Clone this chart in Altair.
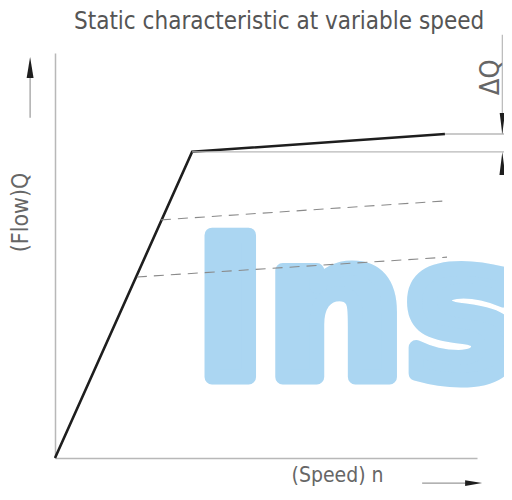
import altair as alt
import pandas as pd

# ---- data (speed n on x, flow Q on y; axis origin = 0, axis ends = 100) ----
main_n = [0, 32.5, 92.4]
main_q = [0, 75.6, 80.0]

dash_upper_n = [25.1, 92.9]
dash_upper_q = [58.8, 63.5]
dash_lower_n = [19.4, 92.9]
dash_lower_q = [44.7, 49.6]

ref_q = [75.6, 80.0]
ref_start_n = [32.5, 92.4]
ref_end_n = [108.3, 108.3]

dim_n = 106.0
dim_top_q = 104.5
delta_label = "ΔQ"
delta_label_n = 103.2
delta_label_q = 94.0

title_text = "Static characteristic at variable speed"
title_n = 53.1
title_q = 106.0
x_title = "(Speed) n"
y_title = "(Flow)Q"

W, H = 422, 405
XDOM = [0, 100]
YDOM = [0, 100]

FONT = "DejaVu Sans Condensed"
TXT = "#666666"
BLUE = "#abd6f2"

xs = alt.Scale(domain=XDOM, nice=False, zero=False)
ys = alt.Scale(domain=YDOM, nice=False, zero=False)

main_df = pd.DataFrame({"n": main_n, "Q": main_q, "o": range(len(main_n))})
dash_df = pd.DataFrame({
    "n": dash_upper_n + dash_lower_n,
    "Q": dash_upper_q + dash_lower_q,
    "s": ["upper"] * 2 + ["lower"] * 2,
})
ref_df = pd.DataFrame({"n": ref_start_n, "n2": ref_end_n, "Q": ref_q})

base_x = alt.X("n:Q", scale=xs, axis=alt.Axis(
    title=x_title, domain=True, domainColor="#b8b8b8", domainWidth=1.5,
    ticks=False, labels=False, grid=False,
    titleFont=FONT, titleFontSize=21, titleFontWeight="normal", titleColor=TXT,
    titleX=282, titleY=17, titleAlign="center", titleBaseline="middle"))
base_y = alt.Y("Q:Q", scale=ys, axis=alt.Axis(
    title=y_title, domain=True, domainColor="#b8b8b8", domainWidth=1.5,
    ticks=False, labels=False, grid=False,
    titleFont=FONT, titleFontSize=23, titleFontWeight="normal", titleColor=TXT,
    titleX=-35, titleY=159, titleAngle=-90, titleAlign="center", titleBaseline="middle"))


def XY():
    return dict(x=alt.X("n:Q", scale=xs), y=alt.Y("Q:Q", scale=ys))


# watermark
wm_df = pd.DataFrame({"n": [33.0], "Q": [19.9], "t": ["Ins"]})
watermark = alt.Chart(wm_df).mark_text(
    font="DejaVu Sans", fontWeight="bold", fontSize=194, color=BLUE,
    stroke=BLUE, strokeWidth=15, strokeJoin="round",
    align="left", baseline="alphabetic"
).encode(text="t:N", **XY())

main = alt.Chart(main_df).mark_line(color="#1e1e1e", strokeWidth=2.6).encode(
    x=base_x, y=base_y, order="o:Q")

dashed = alt.Chart(dash_df).mark_line(
    color="#8a8a8a", strokeWidth=1.1, strokeDash=[10, 7]
).encode(detail="s:N", **XY())

refs = alt.Chart(ref_df).mark_rule(color="#b8b8b8", strokeWidth=1.3).encode(
    x=alt.X("n:Q", scale=xs), x2="n2:Q", y=alt.Y("Q:Q", scale=ys))

dim_line_df = pd.DataFrame({"n": [dim_n], "Q": [ref_q[1]], "Q2": [dim_top_q]})
dim_line = alt.Chart(dim_line_df).mark_rule(color="#b8b8b8", strokeWidth=1.2).encode(
    x=alt.X("n:Q", scale=xs), y=alt.Y("Q:Q", scale=ys), y2="Q2:Q")

down_wedge = "M0,1 L-0.25,-1 L0.25,-1 Z"
up_wedge = "M0,-1 L0.25,1 L-0.25,1 Z"
right_wedge = "M1,0 L-1,-0.35 L-1,0.35 Z"
up_arrow = "M0,-1 L0.33,1 L-0.33,1 Z"

wedge_df = pd.DataFrame({"n": [dim_n], "Q": [82.6]})
wedge_down = alt.Chart(wedge_df).mark_point(
    shape=down_wedge, filled=True, size=441, color="#1e1e1e", opacity=1
).encode(**XY())
wedge2_df = pd.DataFrame({"n": [dim_n], "Q": [72.7]})
wedge_up = alt.Chart(wedge2_df).mark_point(
    shape=up_wedge, filled=True, size=529, color="#1e1e1e", opacity=1
).encode(**XY())

dq_df = pd.DataFrame({"n": [delta_label_n], "Q": [delta_label_q], "t": [delta_label]})
dq = alt.Chart(dq_df).mark_text(
    font=FONT, fontSize=27, color=TXT, angle=270, align="center", baseline="middle"
).encode(text="t:N", **XY())

title_df = pd.DataFrame({"n": [title_n], "Q": [title_q], "t": [title_text]})
title = alt.Chart(title_df).mark_text(
    font=FONT, fontSize=24, color="#555555", align="center", baseline="alphabetic"
).encode(text="t:N", **XY())

# axis arrows
yarr_df = pd.DataFrame({"n": [-5.9], "Q": [84.0], "Q2": [96.0]})
yarr_line = alt.Chart(yarr_df).mark_rule(color="#999", strokeWidth=1.2).encode(
    x=alt.X("n:Q", scale=xs), y=alt.Y("Q:Q", scale=ys), y2="Q2:Q")
yhead_df = pd.DataFrame({"n": [-5.9], "Q": [96.4]})
yhead = alt.Chart(yhead_df).mark_point(
    shape=up_arrow, filled=True, size=441, color="#1e1e1e", opacity=1
).encode(**XY())

xarr_df = pd.DataFrame({"n": [87.0], "n2": [98.0], "Q": [-6.2]})
xarr_line = alt.Chart(xarr_df).mark_rule(color="#999", strokeWidth=1.2).encode(
    x=alt.X("n:Q", scale=xs), x2="n2:Q", y=alt.Y("Q:Q", scale=ys))
xhead_df = pd.DataFrame({"n": [99.2], "Q": [-6.2]})
xhead = alt.Chart(xhead_df).mark_point(
    shape=right_wedge, filled=True, size=289, color="#1e1e1e", opacity=1
).encode(**XY())

chart = alt.layer(
    main, watermark, dashed, refs, dim_line, wedge_down, wedge_up, dq,
    title, yarr_line, yhead, xarr_line, xhead
).properties(
    width=W, height=H,
    padding={"left": 47, "top": 45, "right": 27, "bottom": 29},
    autosize=alt.AutoSizeParams(type="none"),
    background="white",
).configure_view(strokeWidth=0)

chart.save("out.html", embed_options={"renderer": "svg", "actions": False})
